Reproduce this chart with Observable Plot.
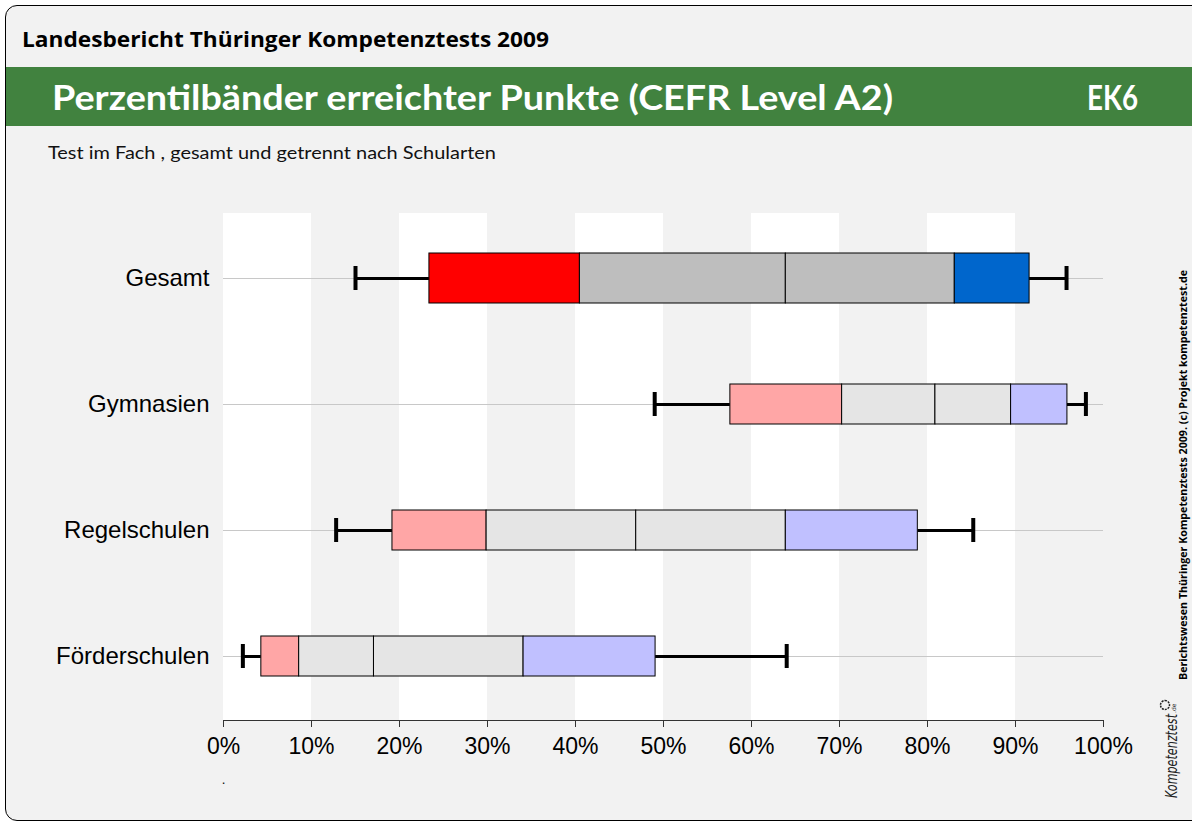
<!DOCTYPE html>
<html>
<head>
<meta charset="utf-8">
<script src="https://cdn.jsdelivr.net/npm/d3@7"></script>
<script src="https://cdn.jsdelivr.net/npm/@observablehq/plot@0.6"></script>
<style>
  html, body { margin: 0; padding: 0; background: #ffffff; width: 1192px; height: 825px; overflow: hidden; }
  #frame { position: absolute; left: 5px; top: 5px; width: 1220px; height: 816px; border: 1px solid #000; border-radius: 12px; background: #f2f2f2; box-sizing: border-box; }
  #band { position: absolute; left: 6px; top: 67px; width: 1186px; height: 59px; background: #41823f; }
  #chart { position: absolute; left: 0; top: 190px; }
  #deco { position: absolute; left: 0; top: 0; pointer-events: none; }
</style>
</head>
<body>
<div id="frame"></div>
<div id="band"></div>
<div id="chart"></div>
<svg id="deco" width="1192" height="825"></svg>
<script>
// ---- data ----
const schools = ["Gesamt", "Gymnasien", "Regelschulen", "Förderschulen"];
const p05 = [15.0, 49.0, 12.8, 2.2];
const p10 = [23.4, 57.6, 19.2, 4.3];
const p25 = [40.5, 70.3, 29.9, 8.6];
const p50 = [63.9, 80.9, 46.9, 17.1];
const p75 = [83.1, 89.5, 63.9, 34.1];
const p90 = [91.6, 95.9, 78.9, 49.1];
const p95 = [95.8, 98.0, 85.2, 64.0];
const xTicks = [0, 10, 20, 30, 40, 50, 60, 70, 80, 90, 100];
const totalColors = {low: "#ff0000", mid: "#bebebe", high: "#0066cc"};
const groupColors = {low: "#ffa6a6", mid: "#e5e5e5", high: "#c0c0ff"};

const headerText = "Landesbericht Thüringer Kompetenztests 2009";
const titleText = "Perzentilbänder erreichter Punkte (CEFR Level A2)";
const codeText = "EK6";
const subtitleText = "Test im Fach , gesamt und getrennt nach Schularten";
const sideText = "Berichtswesen  Thüringer Kompetenztests 2009.  (c)  Projekt kompetenztest.de";

// ---- tables built from the arrays ----
const rows = schools.map((s, i) => ({school: s, p05: p05[i], p10: p10[i], p25: p25[i], p50: p50[i], p75: p75[i], p90: p90[i], p95: p95[i]}));
const segs = rows.flatMap(r => {
  const c = r.school === "Gesamt" ? totalColors : groupColors;
  return [
    {school: r.school, x1: r.p10, x2: r.p25, fill: c.low},
    {school: r.school, x1: r.p25, x2: r.p50, fill: c.mid},
    {school: r.school, x1: r.p50, x2: r.p75, fill: c.mid},
    {school: r.school, x1: r.p75, x2: r.p90, fill: c.high}
  ];
});
const shades = xTicks.slice(0, -1).filter((d, i) => i % 2 === 0).map((d, i) => ({x1: d, x2: xTicks[xTicks.indexOf(d) + 1]}));

const chart = Plot.plot({
  width: 1150,
  height: 600,
  marginLeft: 223,
  marginRight: 47,
  marginTop: 23,
  marginBottom: 70,
  style: {background: "transparent", color: "black", fontFamily: "'Liberation Sans', Arial, sans-serif", overflow: "visible"},
  x: {domain: [0, 100]},
  y: {domain: schools, padding: 0},
  color: {type: "identity"},
  marks: [
    Plot.rect(shades, {x1: "x1", x2: "x2", fill: "white"}),
    Plot.gridY({stroke: "#c8c8c8", strokeOpacity: 1, strokeWidth: 1}),
    Plot.ruleY(rows, {y: "school", x1: "p05", x2: "p10", stroke: "black", strokeWidth: 3}),
    Plot.ruleY(rows, {y: "school", x1: "p90", x2: "p95", stroke: "black", strokeWidth: 3}),
    Plot.tickX(rows, {x: "p05", y: "school", stroke: "black", strokeWidth: 4, insetTop: 51, insetBottom: 51}),
    Plot.tickX(rows, {x: "p95", y: "school", stroke: "black", strokeWidth: 4, insetTop: 51, insetBottom: 51}),
    Plot.barX(segs.filter(d => d.school === "Gesamt"), {x1: "x1", x2: "x2", y: "school", fill: "fill", stroke: "black", strokeWidth: 1, insetTop: 38, insetBottom: 38}),
    Plot.barX(segs.filter(d => d.school !== "Gesamt"), {x1: "x1", x2: "x2", y: "school", fill: "fill", stroke: "black", strokeWidth: 1, insetTop: 43, insetBottom: 43}),
    Plot.axisY({tickSize: 0, tickPadding: 14, fontSize: 24, label: null}),
    Plot.axisX({ticks: xTicks, tickFormat: d => d + "%", tickSize: 7, tickPadding: 10, fontSize: 23, label: null, stroke: "#333"}),
    Plot.frame({anchor: "bottom", stroke: "#333"})
  ]
});
document.getElementById("chart").appendChild(chart);

// ---- decoration texts ----
const deco = d3.select("#deco");
function txt(s, x, y, size, weight, fill, len, family) {
  const t = deco.append("text").attr("x", x).attr("y", y)
    .attr("font-size", size).attr("font-weight", weight).attr("fill", fill)
    .attr("font-family", family || "'Open Sans', sans-serif").text(s);
  if (len) t.attr("textLength", len).attr("lengthAdjust", "spacingAndGlyphs");
  return t;
}
txt(headerText, 22, 47, 21, 700, "black", 527);
txt(titleText, 52, 110, 35, 700, "white", 841, "Lato, sans-serif");
txt(codeText, 1087, 110, 35, 700, "white", 51, "Lato, sans-serif");
txt(subtitleText, 48, 159, 16.5, 400, "#111", 448, "Lato, sans-serif");
txt(".", 222, 784, 12, 400, "black", null);

deco.append("text").attr("transform", "translate(1187,680) rotate(-90)")
  .attr("font-size", 10).attr("font-weight", 700).attr("font-family", "'Open Sans', sans-serif")
  .attr("textLength", 410).attr("lengthAdjust", "spacingAndGlyphs").text(sideText);

const logo = deco.append("g").attr("transform", "translate(1177,798) rotate(-90)");
logo.append("text").attr("x", 0).attr("y", 0).attr("font-size", 15).attr("font-style", "italic")
  .attr("font-family", "'DejaVu Sans Condensed', 'DejaVu Sans', sans-serif").attr("textLength", 84)
  .attr("lengthAdjust", "spacingAndGlyphs").attr("fill", "#222").text("Kompetenztest");
logo.append("text").attr("x", 85).attr("y", -1).attr("font-size", 6).attr("font-family", "'DejaVu Sans', sans-serif").attr("fill", "#222").text(".de");
logo.append("circle").attr("cx", 93).attr("cy", -12).attr("r", 4.5).attr("fill", "none").attr("stroke", "#222").attr("stroke-width", 1.5).attr("stroke-dasharray", "2 1");
</script>
</body>
</html>
